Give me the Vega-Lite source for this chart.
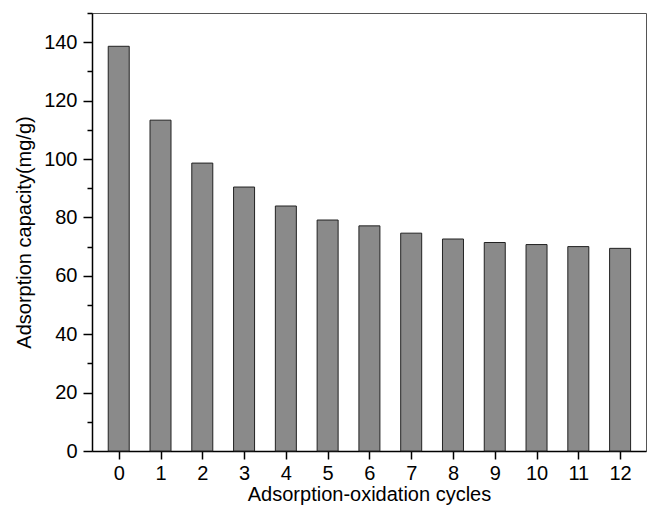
{
  "$schema": "https://vega.github.io/schema/vega-lite/v6.json",
  "width": 554,
  "height": 438,
  "autosize": {"type": "none"},
  "padding": {"left": 92, "top": 13, "right": 1, "bottom": 56},
  "background": "white",
  "config": {
    "font": "Liberation Sans",
    "view": {"stroke": "#555555", "strokeWidth": 1}
  },
  "data": {
    "values": [
      {"cycle": 0, "capacity": 138.6},
      {"cycle": 1, "capacity": 113.3},
      {"cycle": 2, "capacity": 98.6},
      {"cycle": 3, "capacity": 90.4},
      {"cycle": 4, "capacity": 83.9},
      {"cycle": 5, "capacity": 79.1},
      {"cycle": 6, "capacity": 77.1},
      {"cycle": 7, "capacity": 74.6},
      {"cycle": 8, "capacity": 72.6},
      {"cycle": 9, "capacity": 71.4},
      {"cycle": 10, "capacity": 70.7},
      {"cycle": 11, "capacity": 70.0},
      {"cycle": 12, "capacity": 69.4}
    ]
  },
  "mark": {"type": "bar", "size": 21, "fill": "#8a8a8a", "stroke": "#222222", "strokeWidth": 1},
  "encoding": {
    "x": {
      "field": "cycle",
      "type": "quantitative",
      "scale": {"domain": [-0.52, 12.5], "nice": false, "zero": false},
      "axis": {
        "values": [0, 0.5, 1, 1.5, 2, 2.5, 3, 3.5, 4, 4.5, 5, 5.5, 6, 6.5, 7, 7.5, 8, 8.5, 9, 9.5, 10, 10.5, 11, 11.5, 12],
        "format": "d",
        "labelExpr": "datum.value % 1 == 0 ? datum.label : ''",
        "tickSize": {"condition": {"test": "datum.value % 1 == 0", "value": 8}, "value": 5},
        "grid": false,
        "domainColor": "black",
        "domainWidth": 1.5,
        "tickColor": "black",
        "tickWidth": 1.5,
        "labelFontSize": 20,
        "labelPadding": 4,
        "labelColor": "black",
        "labelFlush": false,
        "labelOverlap": false,
        "title": "Adsorption-oxidation cycles",
        "titleFontSize": 20,
        "titleFontWeight": "normal",
        "titleColor": "black",
        "titlePadding": 1
      }
    },
    "y": {
      "field": "capacity",
      "type": "quantitative",
      "scale": {"domain": [0, 150], "nice": false},
      "axis": {
        "values": [0, 10, 20, 30, 40, 50, 60, 70, 80, 90, 100, 110, 120, 130, 140, 150],
        "format": "d",
        "labelExpr": "datum.value % 20 == 0 ? datum.label : ''",
        "tickSize": {"condition": {"test": "datum.value % 20 == 0", "value": 9}, "value": 5},
        "grid": false,
        "domainColor": "black",
        "domainWidth": 1.5,
        "tickColor": "black",
        "tickWidth": 1.5,
        "labelFontSize": 20,
        "labelPadding": 6,
        "labelColor": "black",
        "labelFlush": false,
        "labelOverlap": false,
        "title": "Adsorption capacity(mg/g)",
        "titleFontSize": 20,
        "titleFontWeight": "normal",
        "titleColor": "black",
        "titlePadding": 9
      }
    }
  }
}
